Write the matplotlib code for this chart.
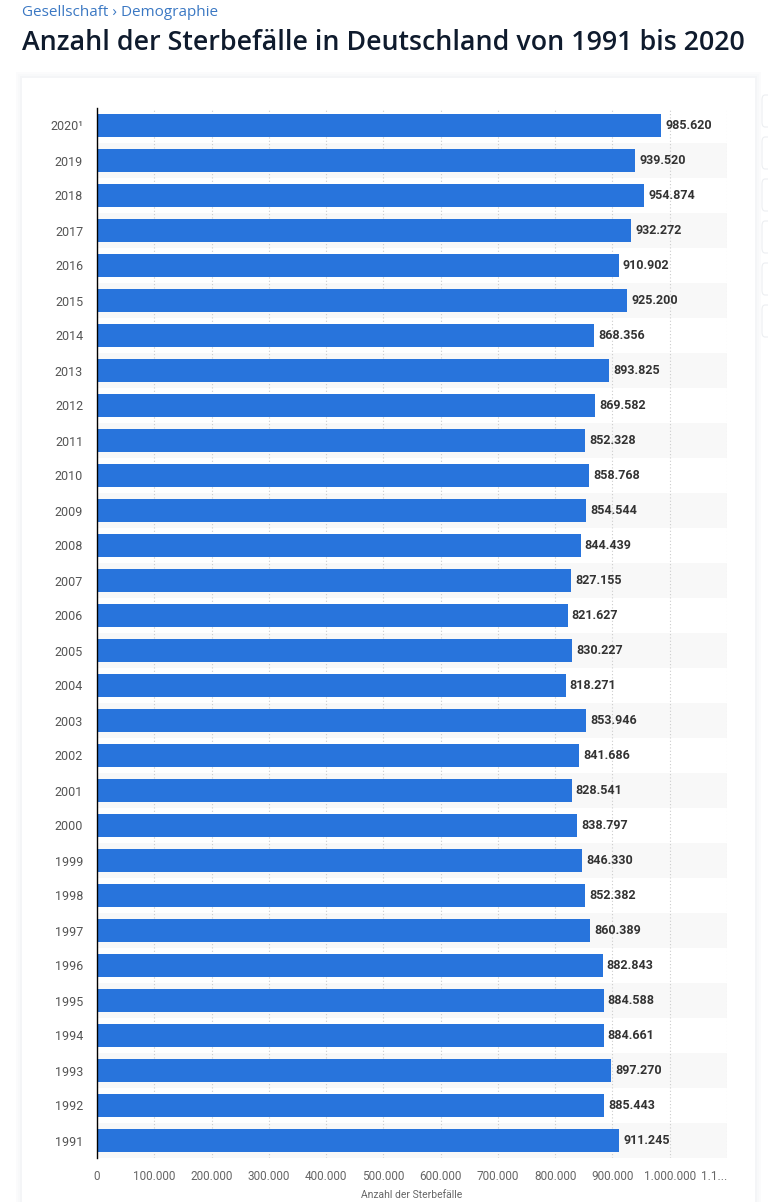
import matplotlib.pyplot as plt
from matplotlib.patches import Rectangle, FancyBboxPatch

# daten: sterbefaelle in deutschland
jahre = ['2020¹', '2019', '2018', '2017', '2016', '2015', '2014', '2013', '2012', '2011',
         '2010', '2009', '2008', '2007', '2006', '2005', '2004', '2003', '2002', '2001',
         '2000', '1999', '1998', '1997', '1996', '1995', '1994', '1993', '1992', '1991']
sterbefaelle = [985620, 939520, 954874, 932272, 910902, 925200, 868356, 893825, 869582, 852328,
                858768, 854544, 844439, 827155, 821627, 830227, 818271, 853946, 841686, 828541,
                838797, 846330, 852382, 860389, 882843, 884588, 884661, 897270, 885443, 911245]
x_ticks = [0, 100000, 200000, 300000, 400000, 500000, 600000, 700000, 800000, 900000, 1000000, 1100000]
x_tick_labels = ['0', '100.000', '200.000', '300.000', '400.000', '500.000', '600.000',
                 '700.000', '800.000', '900.000', '1.000.000', '1.1...']

fuente = ['Roboto', 'DejaVu Sans']
azul = '#2874dc'

fig = plt.figure(figsize=(7.68, 12.02), dpi=100)
fig.patch.set_facecolor('#ffffff')

W, H = 768, 1202
def fx(px):
    return px / W
def fy(py):
    return 1 - py / H

# sombra y tarjeta
for i, c in enumerate(['#fbfbfc', '#f8f9fa', '#f4f5f7']):
    d = 6 - 2 * i
    fig.patches.append(Rectangle((fx(22 - d), fy(1202)), fx(733 + 2 * d), (1202 - 78 + d) / H,
                                 transform=fig.transFigure, facecolor=c, edgecolor='none', zorder=-3))
fig.patches.append(Rectangle((fx(22), fy(1202)), fx(733), (1202 - 78) / H,
                             transform=fig.transFigure, facecolor='white', edgecolor='none', zorder=-2))

# botones a la derecha
for top in [95, 137, 179, 221, 263, 305]:
    fig.patches.append(FancyBboxPatch((fx(762), fy(top + 32)), fx(20), 32 / H,
                                      boxstyle='round,pad=0,rounding_size=0.004',
                                      transform=fig.transFigure, facecolor='white',
                                      edgecolor='#eceef1', linewidth=0.8, zorder=-1))

# textos superiores
fig.text(fx(22), fy(12), 'Gesellschaft › Demographie', color='#3b78c3', fontsize=11,
         family=['Open Sans', 'DejaVu Sans'], va='center', ha='left')
fig.text(fx(22), fy(43), 'Anzahl der Sterbefälle in Deutschland von 1991 bis 2020', color='#0f1b2d',
         fontsize=19.3, family=['Open Sans', 'DejaVu Sans'], fontweight='semibold', va='center', ha='left')

ax = fig.add_axes([fx(97), fy(1158), fx(727) - fx(97), (1158 - 108) / H])
ax.set_facecolor('none')

pos = list(range(len(jahre)))
xmax = 1100000

# bandas alternas
for i in pos:
    if i % 2 == 1:
        ax.axhspan(i - 0.5, i + 0.5, xmin=0, xmax=1, color='#f8f8f8', zorder=0, linewidth=0)

ax.barh(pos, sterbefaelle, height=0.68, color=azul, zorder=3)

for i, v in zip(pos, sterbefaelle):
    etiqueta = f'{v:,}'.replace(',', '.')
    ax.annotate(etiqueta, (v, i), xytext=(3, 0), textcoords='offset points', va='center', ha='left',
                fontsize=9, color='#333333', fontweight='bold', family=fuente, zorder=4)

ax.set_xlim(0, xmax)
ax.set_ylim(len(jahre) - 0.5, -0.5)
ax.set_yticks(pos)
ax.set_yticklabels(jahre, family=fuente, fontsize=9, color='#555555')
ax.set_xticks(x_ticks)
ax.set_xticklabels(x_tick_labels, family=fuente, fontsize=8.5, color='#666666')
ax.get_xticklabels()[-1].set_ha('right')
ax.tick_params(axis='both', length=0)
ax.tick_params(axis='y', pad=10)
ax.tick_params(axis='x', pad=9)

for t in x_ticks[1:]:
    ax.axvline(t, color='#cccccc', linestyle=(0, (1, 2)), linewidth=0.8, zorder=1)

for s in ['top', 'right', 'bottom']:
    ax.spines[s].set_visible(False)
ax.spines['left'].set_color('#000000')
ax.spines['left'].set_linewidth(1)
ax.spines['left'].set_zorder(5)

ax.set_xlabel('Anzahl der Sterbefälle', family=fuente, fontsize=7.5, color='#666666', labelpad=5)

fig.savefig('out.png', dpi=100)
